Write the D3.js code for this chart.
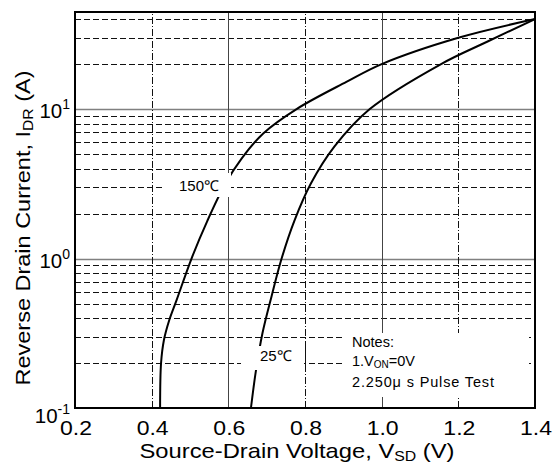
<!DOCTYPE html>
<html>
<head>
<meta charset="utf-8">
<script src="https://cdn.jsdelivr.net/npm/d3@7"></script>
<style>
  body { margin: 0; background: #fff; }
  svg { display: block; }
</style>
</head>
<body>
<div id="chart"></div>
<script>
// 数据
const voltTicks = [0.2, 0.4, 0.6, 0.8, 1.0, 1.2, 1.4]
const decadeTicks = [0.1, 1, 10]
const decadeExp = ['-1', '0', '1']
const minorTicks = [0.2, 0.3, 0.4, 0.5, 0.6, 0.7, 0.8, 0.9, 2, 3, 4, 5, 6, 7, 8, 9, 20, 30, 40]

// 150℃ 曲线
const i150 = [0.1, 0.2, 0.285, 0.388, 0.527, 1, 1.78, 3.16, 4.68, 6.87, 10, 15.2, 20, 30, 40]
const v150 = [0.422, 0.4245, 0.432, 0.446, 0.465, 0.504, 0.545, 0.592, 0.635, 0.691, 0.778, 0.908, 1.0, 1.2, 1.4]
// 25℃ 曲线
const i25 = [0.1, 0.178, 0.316, 0.562, 1, 1.78, 3.16, 5.62, 10, 20, 28.2, 40]
const v25 = [0.659, 0.672, 0.689, 0.713, 0.739, 0.772, 0.815, 0.877, 0.969, 1.155, 1.275, 1.4]

const width = 560
const height = 472
const margin = { left: 75, right: 25, top: 12, bottom: 64 }

const x = d3.scaleLinear().domain([0.2, 1.4]).range([margin.left, width - margin.right])
const y = d3.scaleLog().domain([0.1, 44.6]).range([height - margin.bottom, margin.top])

const svg = d3.select('#chart').append('svg')
  .attr('width', width)
  .attr('height', height)
  .style('font-family', '"Liberation Sans", Arial, sans-serif')

const x0 = x.range()[0], x1 = x.range()[1]
const y0 = y.range()[0], y1 = y.range()[1]

// 横向虚线
svg.append('g')
  .selectAll('line')
  .data(minorTicks)
  .join('line')
  .attr('x1', x0).attr('x2', x1)
  .attr('y1', d => Math.round(y(d)) + 0.5).attr('y2', d => Math.round(y(d)) + 0.5)
  .attr('stroke', '#111')
  .attr('stroke-width', 1)
  .attr('stroke-dasharray', '6,3')

// 十倍线
svg.append('g')
  .selectAll('line')
  .data(decadeTicks.slice(1))
  .join('line')
  .attr('x1', x0).attr('x2', x1)
  .attr('y1', d => Math.round(y(d)) + 0.5).attr('y2', d => Math.round(y(d)) + 0.5)
  .attr('stroke', '#808080')
  .attr('stroke-width', 1.5)

// 竖线: 0.6 和 1.0 实线，其它点划线
const innerV = voltTicks.slice(1, -1)
svg.append('g')
  .selectAll('line')
  .data(innerV)
  .join('line')
  .attr('x1', d => Math.round(x(d)) + 0.5).attr('x2', d => Math.round(x(d)) + 0.5)
  .attr('y1', y0).attr('y2', y1)
  .attr('stroke', (d, i) => i % 2 ? '#444' : '#111')
  .attr('stroke-width', 1)
  .attr('stroke-dasharray', (d, i) => i % 2 ? null : '7,2,1,2')

// 曲线
const line = d3.line()
  .x(d => x(d[0]))
  .y(d => y(d[1]))
  .curve(d3.curveCatmullRom.alpha(0.5))

const curves = [d3.zip(v150, i150), d3.zip(v25, i25)]
svg.append('g')
  .attr('fill', 'none')
  .attr('stroke', '#000')
  .attr('stroke-width', 2)
  .selectAll('path')
  .data(curves)
  .join('path')
  .attr('d', line)

// 标签白底
const masks = [
  { x: 165, y: 173, w: 66, h: 24 },
  { x: 241, y: 346, w: 63, h: 24 },
  { x: 345, y: 333, w: 184, h: 64 }
]
svg.append('g')
  .selectAll('rect')
  .data(masks)
  .join('rect')
  .attr('x', d => d.x).attr('y', d => d.y)
  .attr('width', d => d.w).attr('height', d => d.h)
  .attr('fill', '#fff')

// 0.8 点划线在 25℃ 标签上方仍可见
svg.append('line')
  .attr('x1', Math.round(x(0.8)) + 0.5).attr('x2', Math.round(x(0.8)) + 0.5)
  .attr('y1', 346).attr('y2', 370)
  .attr('stroke', '#111')
  .attr('stroke-dasharray', '7,2,1,2')

svg.append('text')
  .attr('x', 179).attr('y', 190.5)
  .attr('font-size', 15)
  .text('150℃')

svg.append('text')
  .attr('x', 260).attr('y', 361)
  .attr('font-size', 15)
  .text('25℃')

// 注释
const notes = svg.append('g').attr('font-size', 14.5)
notes.append('text').attr('x', 352).attr('y', 346.5).text('Notes:')
const n1 = notes.append('text').attr('x', 352).attr('y', 366)
n1.append('tspan').text('1.V')
n1.append('tspan').attr('font-size', 10).attr('dy', 2).text('ON')
n1.append('tspan').attr('dy', -2).text('=0V')
notes.append('text').attr('x', 352).attr('y', 387).attr('textLength', 142).text('2.250μ s Pulse Test')

// 边框
svg.append('rect')
  .attr('x', x0).attr('y', y1)
  .attr('width', x1 - x0).attr('height', y0 - y1)
  .attr('fill', 'none')
  .attr('stroke', '#000')
  .attr('stroke-width', 2)

// x 轴刻度文字
svg.append('g')
  .selectAll('text')
  .data(voltTicks)
  .join('text')
  .attr('x', d => x(d) + 1)
  .attr('y', 435)
  .attr('text-anchor', 'middle')
  .attr('font-size', 20)
  .attr('textLength', 32)
  .attr('lengthAdjust', 'spacingAndGlyphs')
  .text(d => d.toFixed(1))

// y 轴刻度文字 10^n
const yl = svg.append('g')
  .selectAll('text')
  .data(decadeTicks)
  .join('text')
  .attr('x', 70)
  .attr('y', (d, i) => y(d) + (i === 0 ? 15 : 9))
  .attr('text-anchor', 'end')
  .attr('font-size', 20.5)
yl.append('tspan').text('10')
yl.append('tspan').attr('font-size', 14).attr('dy', -9).text((d, i) => decadeExp[i])

// 轴标题
const xt = svg.append('text')
  .attr('x', 297).attr('y', 458)
  .attr('text-anchor', 'middle')
  .attr('font-size', 21)
  .attr('textLength', 315)
  .attr('lengthAdjust', 'spacingAndGlyphs')
xt.append('tspan').text('Source-Drain Voltage, V')
xt.append('tspan').attr('font-size', 14).attr('dy', 3).text('SD')
xt.append('tspan').attr('dy', -3).text(' (V)')

const yt = svg.append('text')
  .attr('transform', 'translate(30,228) rotate(-90)')
  .attr('text-anchor', 'middle')
  .attr('font-size', 21)
  .attr('textLength', 315)
  .attr('lengthAdjust', 'spacingAndGlyphs')
yt.append('tspan').text('Reverse Drain Current, I')
yt.append('tspan').attr('font-size', 14).attr('dy', 3).text('DR')
yt.append('tspan').attr('dy', -3).text(' (A)')
</script>
</body>
</html>
